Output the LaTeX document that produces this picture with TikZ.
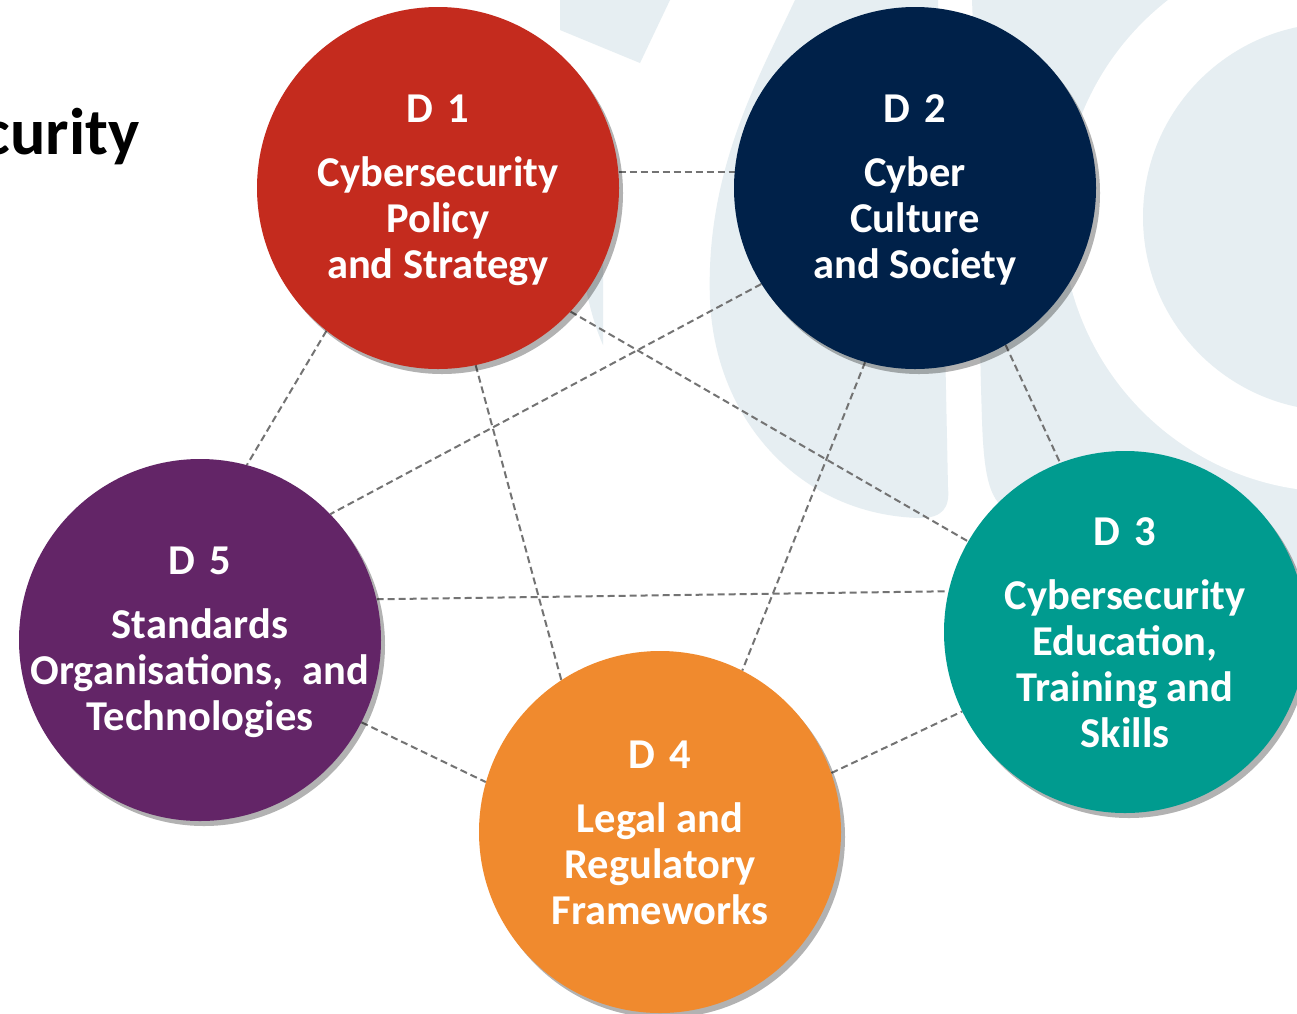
\documentclass[tikz,border=0pt]{standalone}
\usepackage{fontspec}
\setmainfont{Carlito}
\usetikzlibrary{backgrounds,shadows}

\definecolor{dimred}{HTML}{C42B1E}
\definecolor{dimnavy}{HTML}{002149}
\definecolor{dimteal}{HTML}{009B8F}
\definecolor{dimorange}{HTML}{F08A2E}
\definecolor{dimpurple}{HTML}{632567}
\definecolor{wmark}{HTML}{E6EEF2}

\newcommand{\dimhead}[1]{D\,\,#1\\[18pt]}

\begin{document}
\begin{tikzpicture}
[x=1pt, y=-1pt,
dimension/.style={circle, inner sep=0pt, minimum size=362pt,
  drop shadow={shadow xshift=4pt, shadow yshift=-5pt, opacity=.3, fill=black}},
dimtext/.style={inner sep=0pt, text=white, align=center,
  font=\fontsize{42.5}{46}\selectfont\bfseries},
link/.style={draw=black!55, line width=2pt, dash pattern=on 7pt off 4pt},
logo/.style={fill=wmark}]

\path[use as bounding box] (0,0) rectangle (1297,1013);

% watermark
\begin{scope}[on background layer]
\fill[white] (0,0) rectangle (1297,1013);
\fill[logo] (560,0) -- (670,0) -- (640,63) -- (560,30) -- cycle;
\fill[logo] (575,230) -- (603,230) -- (603,345) .. controls (592,320) and (585,290) .. (575,230) -- cycle;
\fill[logo] (795,0) .. controls (760,75) and (705,170) .. (710,300)
  .. controls (715,420) and (800,515) .. (920,518)
  .. controls (942,518) and (950,508) .. (948,488) -- (938,0) -- cycle;
\fill[logo] (972,0) .. controls (978,150) and (978,300) .. (982,420)
  .. controls (984,480) and (990,510) .. (1020,515) -- (1297,570) -- (1297,0) -- cycle;
\fill[white] (1337,217) circle[radius=275];
\fill[logo] (1337,217) circle[radius=194];
\end{scope}

\node[anchor=base east, font=\fontsize{66}{72}\selectfont\bfseries] (title) at (143,154) {curity};

% dimensions
\node[dimension, fill=dimred] (d1) at (438,188) {};
\node[dimtext] (t1) at ([yshift=-2pt]d1) {\dimhead{1}Cybersecurity\\ Policy\\ and Strategy};
\node[dimension, fill=dimnavy] (d2) at (915,188) {};
\node[dimtext] (t2) at ([yshift=-2pt]d2) {\dimhead{2}Cyber\\ Culture\\ and Society};
\node[dimension, fill=dimteal] (d3) at (1125,632) {};
\node[dimtext] (t3) at ([yshift=-1pt]d3) {\dimhead{3}Cybersecurity\\ Education,\\ Training and\\ Skills};
\node[dimension, fill=dimorange] (d4) at (660,832) {};
\node[dimtext] (t4) at ([yshift=-1pt]d4) {\dimhead{4}Legal and\\ Regulatory\\ Frameworks};
\node[dimension, fill=dimpurple] (d5) at (200,640) {};
\node[dimtext] (t5) at ([yshift=-2pt]d5) {\dimhead{5}Standards\\ Organisations,~ and\\ Technologies};

% dashed links
\begin{scope}[on background layer]
\foreach \a/\b in {d1.5/d2.175, d1.232/d5.75, d1.-78/d4.123, d1.-43/d3.150, d2.212/d5.44,
  d2.-106/d4.63, d2.-60/d3.111, d5.13/d3.167, d5.-27/d4.164, d4.19/d3.206}
  \draw[link] (\a) -- (\b);
\end{scope}
\end{tikzpicture}
\end{document}
